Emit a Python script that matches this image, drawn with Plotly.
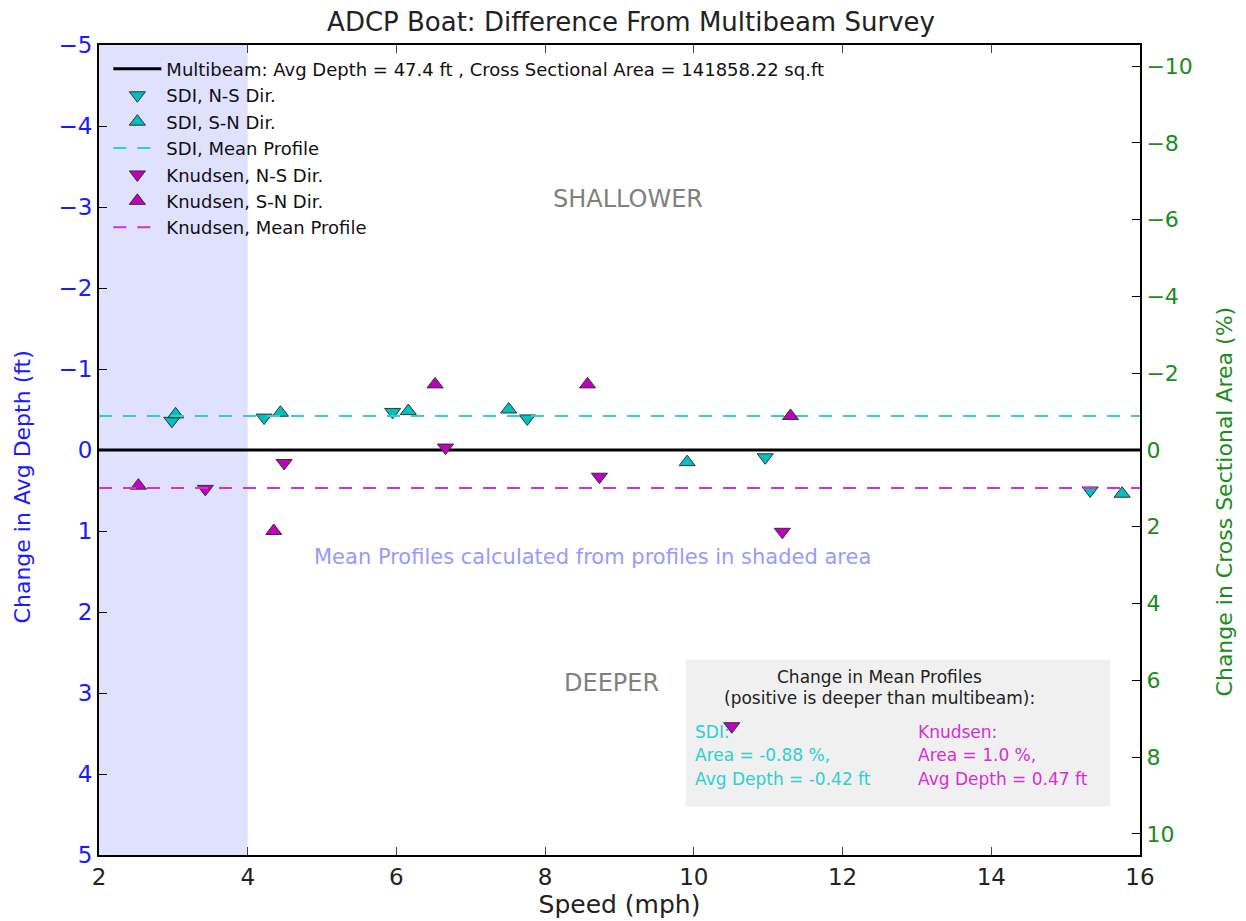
import plotly.graph_objects as go

# ---------------- data ----------------
multibeam_depth = 47.4
multibeam_area = 141858.22

sdi_ns_speed = [2.98, 4.22, 5.95, 7.76, 10.96, 15.33]
sdi_ns_depth = [-0.36, -0.40, -0.47, -0.39, 0.09, 0.50]
sdi_sn_speed = [3.03, 4.44, 6.16, 7.51, 9.91, 15.76]
sdi_sn_depth = [-0.44, -0.46, -0.48, -0.50, 0.15, 0.54]
knud_ns_speed = [3.43, 4.49, 6.66, 8.73, 11.19, 10.51]
knud_ns_depth = [0.48, 0.16, -0.03, 0.33, 1.01, 3.41]
knud_sn_speed = [2.53, 4.35, 6.52, 8.57, 11.30]
knud_sn_depth = [0.44, 1.00, -0.81, -0.81, -0.42]

sdi_mean_area = -0.88
sdi_mean_depth = -0.42
knud_mean_area = 1.0
knud_mean_depth = 0.47

shade_range = [2, 4]
x_range = [2, 16]
depth_range = [-5, 5]
x_ticks = [2, 4, 6, 8, 10, 12, 14, 16]
depth_ticks = [-5, -4, -3, -2, -1, 0, 1, 2, 3, 4, 5]
area_ticks = [-10, -8, -6, -4, -2, 0, 2, 4, 6, 8, 10]

CYAN = "#00BFBF"
MAG = "#BF00BF"
CYAN_L = "#2ECFCF"
MAG_L = "#D62ED6"
BLUE = "#1a1aff"
GREEN = "#1a8c1a"
FONT = "DejaVu Sans"

def minus(v):
    s = f"{v:g}"
    return s.replace("-", "\u2212")

fig = go.Figure()

# multibeam zero line
fig.add_trace(go.Scatter(
    x=x_range, y=[0, 0], mode="lines",
    line=dict(color="black", width=3),
    name=f"Multibeam: Avg Depth = {multibeam_depth} ft , Cross Sectional Area = {multibeam_area} sq.ft"))

mk_line = dict(color="#333333", width=1)
fig.add_trace(go.Scatter(x=sdi_ns_speed, y=sdi_ns_depth, mode="markers",
                         marker=dict(symbol="triangle-down", size=14, color=CYAN, line=mk_line),
                         name="SDI, N-S Dir."))
fig.add_trace(go.Scatter(x=sdi_sn_speed, y=sdi_sn_depth, mode="markers",
                         marker=dict(symbol="triangle-up", size=14, color=CYAN, line=mk_line),
                         name="SDI, S-N Dir."))
fig.add_trace(go.Scatter(x=x_range, y=[sdi_mean_depth] * 2, mode="lines",
                         line=dict(color=CYAN_L, width=2, dash="13px,11px"),
                         name="SDI, Mean Profile"))
fig.add_trace(go.Scatter(x=knud_ns_speed, y=knud_ns_depth, mode="markers",
                         marker=dict(symbol="triangle-down", size=14, color=MAG, line=mk_line),
                         name="Knudsen, N-S Dir."))
fig.add_trace(go.Scatter(x=knud_sn_speed, y=knud_sn_depth, mode="markers",
                         marker=dict(symbol="triangle-up", size=14, color=MAG, line=mk_line),
                         name="Knudsen, S-N Dir."))
fig.add_trace(go.Scatter(x=x_range, y=[knud_mean_depth] * 2, mode="lines",
                         line=dict(color=MAG_L, width=2, dash="13px,11px"),
                         name="Knudsen, Mean Profile"))

# invisible trace on the secondary (area %) axis
fig.add_trace(go.Scatter(x=x_range, y=[sdi_mean_area, knud_mean_area], yaxis="y2",
                         mode="lines", line=dict(width=0), opacity=0,
                         showlegend=False, hoverinfo="skip"))

# shaded area
fig.add_shape(type="rect", xref="x", yref="paper", x0=shade_range[0], x1=shade_range[1],
              y0=0, y1=1, fillcolor="rgba(0,0,255,0.12)", line=dict(width=0), layer="below")

# annotation box
fig.add_shape(type="rect", xref="x", yref="y", x0=9.89, x1=15.6, y0=2.59, y1=4.40,
              fillcolor="#F0F0F0", line=dict(width=0), layer="below")

ann = []
ann.append(dict(x=9.11, y=-3.10, text="SHALLOWER", font=dict(size=24, color="#808080")))
ann.append(dict(x=8.89, y=2.88, text="DEEPER", font=dict(size=24, color="#808080")))
ann.append(dict(x=8.64, y=1.32, text="Mean Profiles calculated from profiles in shaded area",
                font=dict(size=21, color="#9999FF")))
ann.append(dict(x=12.5, y=2.80, text="Change in Mean Profiles", font=dict(size=17, color="#222222")))
ann.append(dict(x=12.5, y=3.06, text="(positive is deeper than multibeam):",
                font=dict(size=17, color="#222222")))
for i, t in enumerate(["SDI:", f"Area = {sdi_mean_area} %,", f"Avg Depth = {sdi_mean_depth} ft"]):
    ann.append(dict(x=9.99, y=3.48 + i * 0.29, text=t, xanchor="left", font=dict(size=17, color=CYAN_L)))
for i, t in enumerate(["Knudsen:", f"Area = {knud_mean_area} %,", f"Avg Depth = {knud_mean_depth} ft"]):
    ann.append(dict(x=12.99, y=3.48 + i * 0.29, text=t, xanchor="left", font=dict(size=17, color=MAG_L)))
# axis titles (placed as rotated annotations)
ann.append(dict(xref="paper", yref="paper", x=-0.087, y=0.455, text="Change in Avg Depth (ft)",
                textangle=-90, font=dict(size=22, color=BLUE)))
ann.append(dict(xref="paper", yref="paper", x=1.095, y=0.437, text="Change in Cross Sectional Area (%)",
                textangle=-90, font=dict(size=22, color=GREEN)))
for a in ann:
    a.setdefault("xref", "x")
    a.setdefault("yref", "y")
    a["showarrow"] = False
    a["font"]["family"] = FONT
    fig.add_annotation(**a)

area_lim = depth_range[1] / multibeam_depth * 100

fig.update_layout(
    width=1246, height=921,
    margin=dict(l=91, r=114, t=37, b=74),
    paper_bgcolor="white", plot_bgcolor="white",
    font=dict(family=FONT, color="black"),
    title=dict(text="ADCP Boat: Difference From Multibeam Survey", x=0.5, xanchor="center",
               y=0.9845, yanchor="middle", font=dict(size=26, color="#222222")),
    showlegend=True,
    legend=dict(x=0.009, y=0.993, xanchor="left", yanchor="top", bgcolor="rgba(0,0,0,0)",
                font=dict(size=18, color="#111111"), tracegroupgap=0, itemwidth=48),
    xaxis=dict(range=x_range, tickvals=x_ticks, ticks="inside", ticklen=8, tickwidth=1,
               showline=True, linecolor="black", linewidth=2, mirror="ticks",
               showgrid=False, zeroline=False,
               tickfont=dict(size=23, color="#222222"),
               title=dict(text="Speed (mph)", font=dict(size=25, color="#222222"), standoff=2)),
    yaxis=dict(range=[depth_range[1], depth_range[0]], tickvals=depth_ticks,
               ticktext=[minus(v) for v in depth_ticks],
               ticks="inside", ticklen=8, tickwidth=1, tickcolor="black",
               showline=True, linecolor="black", linewidth=2,
               showgrid=False, zeroline=False,
               tickfont=dict(size=23, color=BLUE)),
    yaxis2=dict(overlaying="y", side="right", range=[area_lim, -area_lim], tickvals=area_ticks,
                ticktext=[minus(v) for v in area_ticks],
                ticks="inside", ticklen=8, tickwidth=1, tickcolor="black",
                showline=True, linecolor="black", linewidth=2,
                showgrid=False, zeroline=False,
                tickfont=dict(size=22, color=GREEN)),
)

fig.write_html("out.html")
